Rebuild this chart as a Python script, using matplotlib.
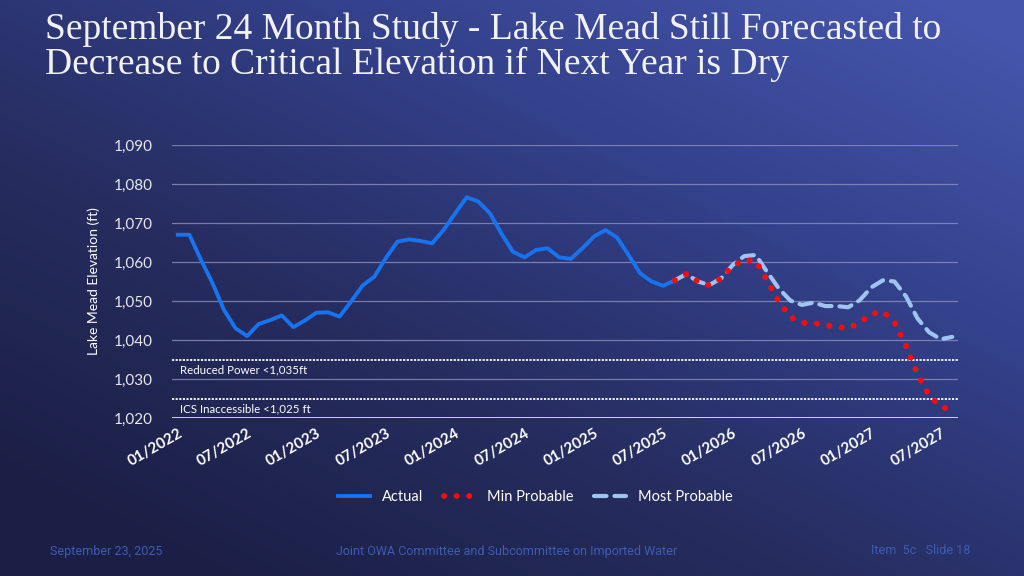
import numpy as np
import matplotlib
matplotlib.use("Agg")
import matplotlib.pyplot as plt
from matplotlib.colors import LinearSegmentedColormap

# Data: month-end elevations (ft), Jan 2022 onward
tick_labels = ["01/2022", "07/2022", "01/2023", "07/2023", "01/2024", "07/2024",
               "01/2025", "07/2025", "01/2026", "07/2026", "01/2027", "07/2027"]

actual = [1067.0, 1067.0, 1060.6, 1054.6, 1047.7, 1043.0, 1041.0, 1044.1, 1045.1, 1046.3,
          1043.3, 1045.0, 1047.0, 1047.1, 1046.0, 1049.9, 1054.0, 1056.2, 1061.0, 1065.2,
          1065.8, 1065.4, 1064.8, 1068.2, 1072.5, 1076.6, 1075.5, 1072.5, 1067.3, 1062.6,
          1061.2, 1063.1, 1063.5, 1061.2, 1060.8, 1063.5, 1066.5, 1068.2, 1066.3, 1061.8,
          1057.1, 1055.0, 1053.9, 1055.3]

# forecasts start at the last actual month (index 43)
fc_start = 43
min_probable = [1055.3, 1056.9, 1055.0, 1054.0, 1055.8, 1059.0, 1060.5, 1060.3, 1055.2, 1049.8,
                1045.9, 1044.4, 1044.4, 1043.8, 1043.4, 1043.0, 1044.5, 1046.6, 1047.3, 1044.6,
                1038.5, 1031.2, 1025.8, 1022.9, 1022.0]
most_probable = [1055.3, 1056.9, 1055.0, 1054.1, 1055.8, 1059.2, 1061.5, 1061.8, 1057.4, 1053.2,
                 1050.1, 1049.0, 1049.6, 1048.7, 1048.7, 1048.4, 1050.2, 1053.5, 1055.3, 1055.0,
                 1051.2, 1045.5, 1042.0, 1040.2, 1040.8]

thresholds = [1035, 1025]
threshold_text = ["Reduced Power <1,035ft", "ICS Inaccessible <1,025 ft"]

# Figure + gradient background
fig = plt.figure(figsize=(10.24, 5.76), dpi=100)
bg = fig.add_axes([0, 0, 1, 1], zorder=-10)
gx, gy = np.meshgrid(np.linspace(0, 1, 256), np.linspace(1, 0, 144))
t = np.clip(0.55 * gx + 0.6 * gy - 0.1, 0, 1)
cmap = LinearSegmentedColormap.from_list("bg", ["#1b1f46", "#262c5e", "#33408a", "#4455ab"])
bg.imshow(t, cmap=cmap, aspect="auto", extent=[0, 1, 0, 1], interpolation="bilinear")
bg.set_axis_off()

ax = fig.add_axes([172 / 1024, 1 - 418 / 576, (958 - 172) / 1024, (418 - 145) / 576])
ax.set_facecolor("none")

x_act = np.arange(len(actual))
x_fc = np.arange(fc_start, fc_start + len(min_probable))

ax.plot(x_act, actual, color="#1873ef", lw=2.8, solid_joinstyle="round", label="Actual", zorder=5)
ax.plot(x_fc, min_probable, color="#ff0a0a", lw=4.2, linestyle=(0, (0.05, 2.1)),
        dash_capstyle="round", label="Min Probable", zorder=6)
ax.plot(x_fc, most_probable, color="#9ec4f0", lw=3.0, linestyle=(0, (3.0, 1.9)),
        dash_capstyle="round", label="Most Probable", zorder=4)

ax.set_ylim(1020, 1090)
ax.set_xlim(-0.5, 67.5)
ax.set_yticks(range(1020, 1091, 10))
ax.set_yticklabels([f"{v:,}" for v in range(1020, 1091, 10)])
ax.grid(axis="y", color="#8a90bd", lw=0.9, alpha=0.8)
ax.set_axisbelow(True)

for y, txt in zip(thresholds, threshold_text):
    ax.axhline(y, color="white", lw=1.3, linestyle=(0, (1.2, 0.8)), zorder=3)
    ax.text(0.2, y - 2.6, txt, color="white", fontsize=8.3, family="Lato",
            va="center", ha="left")
ax.axhline(1020, color="white", lw=1.8, zorder=3)

for s in ax.spines.values():
    s.set_visible(False)

ax.set_xticks(range(0, 67, 6))
ax.set_xticklabels(tick_labels, rotation=30, ha="right", va="top", rotation_mode="anchor")
ax.tick_params(axis="x", length=0, pad=6, labelsize=11, labelcolor="white")
ax.tick_params(axis="y", length=0, pad=14, labelsize=11, labelcolor="#e8e8ee")
for lab in ax.get_xticklabels() + ax.get_yticklabels():
    lab.set_family("Lato")
for lab in ax.get_xticklabels():
    lab.set_fontweight("bold")

ax.set_ylabel("Lake Mead Elevation (ft)", color="white", fontsize=10, family="Lato", labelpad=10)

leg = fig.legend(loc="center", bbox_to_anchor=(0.523, 1 - 497 / 576), ncol=3, frameon=False,
                 handlelength=2.2, columnspacing=1.4, prop={"family": "Lato", "size": 10.5})
for txt in leg.get_texts():
    txt.set_color("white")

# Title
fig.text(45 / 1024, 1 - 12 / 576,
         "September 24 Month Study - Lake Mead Still Forecasted to\n"
         "Decrease to Critical Elevation if Next Year is Dry",
         color="#f2f2f6", fontsize=27, family="Liberation Serif", va="top", ha="left",
         linespacing=0.98)

# Footer
foot = "#3d5cb4"
fig.text(50 / 1024, 1 - 551 / 576, "September 23, 2025", color=foot, fontsize=9,
         family="Roboto", va="center", ha="left")
fig.text(507 / 1024, 1 - 551 / 576, "Joint OWA Committee and Subcommittee on Imported Water",
         color=foot, fontsize=9, family="Roboto", va="center", ha="center")
fig.text(970 / 1024, 1 - 551 / 576, "Item  5c   Slide 18", color=foot, fontsize=9,
         family="Roboto", va="center", ha="right")

fig.savefig("out.png", dpi=100)
